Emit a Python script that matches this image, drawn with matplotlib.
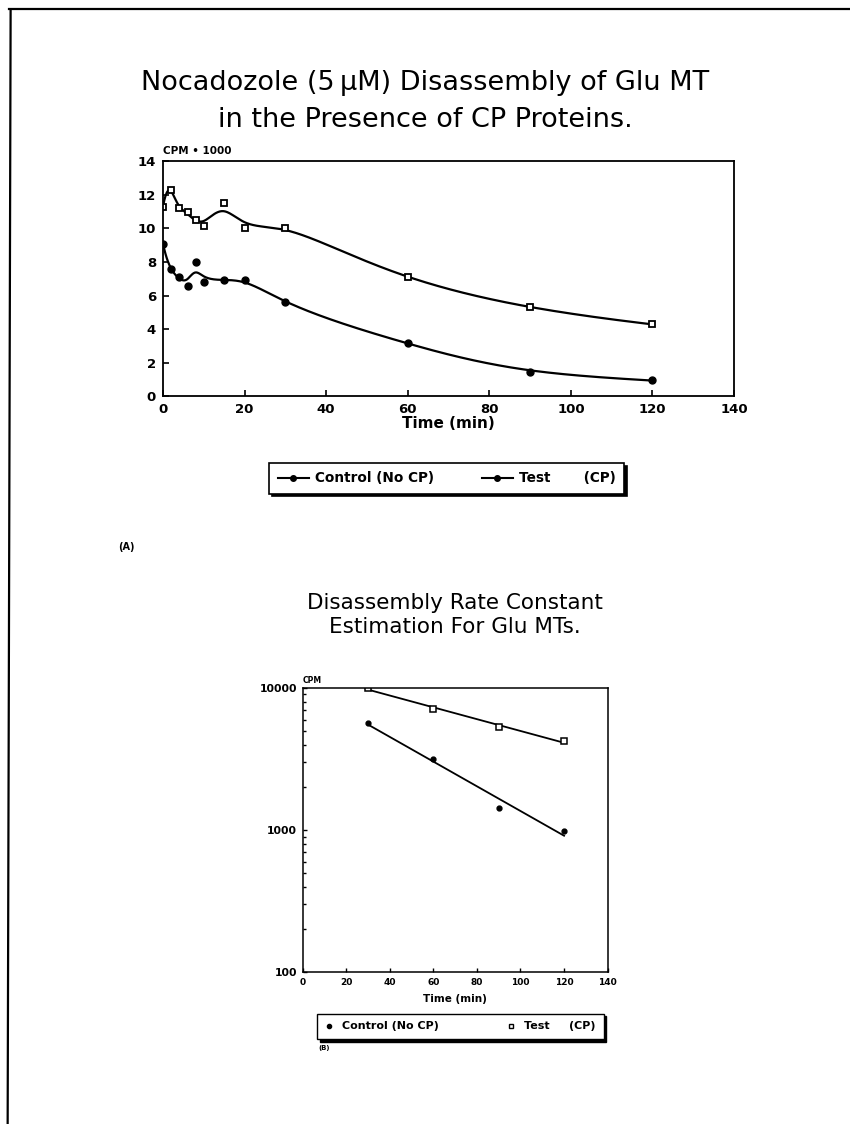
import numpy as np
from matplotlib import pyplot as plt

# Glu MT disassembly, counts (CPM / 1000) sampled over time
times = [0, 2, 4, 6, 8, 10, 15, 20, 30, 60, 90, 120]
test_cpm = [11.3, 12.3, 11.2, 11.0, 10.5, 10.15, 11.5, 10.0, 10.05, 7.1, 5.3, 4.3]
control_cpm = [9.1, 7.6, 7.1, 6.6, 8.0, 6.8, 6.9, 6.9, 5.6, 3.2, 1.45, 0.98]

# rate-constant panel uses the later time points only
rate_times = [30, 60, 90, 120]
rate_test = [10050, 7100, 5300, 4250]
rate_control = [5650, 3160, 1440, 990]

top_xticks = list(range(0, 141, 20))
top_yticks = list(range(0, 15, 2))

plt.rcParams['font.family'] = ['DejaVu Sans']


def smooth_spline(x, y, lam, xs):
    #Cubic smoothing spline (Reinsch), natural end conditions
    x = np.asarray(x, float)
    y = np.asarray(y, float)
    n = len(x)
    h = np.diff(x)
    Q = np.zeros((n, n - 2))
    R = np.zeros((n - 2, n - 2))
    for j in range(1, n - 1):
        Q[j - 1, j - 1] = 1 / h[j - 1]
        Q[j, j - 1] = -1 / h[j - 1] - 1 / h[j]
        Q[j + 1, j - 1] = 1 / h[j]
        R[j - 1, j - 1] = (h[j - 1] + h[j]) / 3
        if j < n - 2:
            R[j - 1, j] = R[j, j - 1] = h[j] / 6
    K = Q @ np.linalg.solve(R, Q.T)
    g = np.linalg.solve(np.eye(n) + lam * K, y)
    M = np.concatenate([[0], np.linalg.solve(R, Q.T @ g), [0]])
    i = np.clip(np.searchsorted(x, xs) - 1, 0, n - 2)
    x0, x1 = x[i], x[i + 1]
    hh = x1 - x0
    a, b = x1 - xs, xs - x0
    return ((M[i] * a ** 3 + M[i + 1] * b ** 3) / (6 * hh)
            + (g[i] / hh - M[i] * hh / 6) * a
            + (g[i + 1] / hh - M[i + 1] * hh / 6) * b)


def time_curve(t, y, lam, ts):
    #smooth on a log-time scale so early and late spacing look alike
    return smooth_spline(np.log(np.asarray(t, float) + 2), y, lam, np.log(ts + 2))


fig = plt.figure(figsize=(8.5, 11.24), dpi=100)

#Page frame (top and left edges)
fig.add_artist(plt.Line2D([0.011, 1.0], [0.9917, 0.9917], color='black', lw=1.6))
fig.add_artist(plt.Line2D([0.0125, 0.009], [0.9917, 0.0], color='black', lw=1.6))

fig.text(0.5, 0.926, "Nocadozole (5\u2009\u03bcM) Disassembly of Glu MT", ha='center', va='center', fontsize=19.5)
fig.text(0.5, 0.893, "in the Presence of CP Proteins.", ha='center', va='center', fontsize=19.5)

#Panel A: decay curves
ax1 = fig.add_axes([0.1918, 0.6475, 0.6718, 0.2089])
xs = np.linspace(0, 120, 800)
ax1.plot(xs, time_curve(times, test_cpm, 0.0015, xs), c='black', lw=1.6)
ax1.plot(xs, time_curve(times, control_cpm, 0.0015, xs), c='black', lw=1.6)
ax1.plot(times, test_cpm, ls='none', marker='s', ms=5, mfc='white', mec='black', mew=1.3)
ax1.plot(times, control_cpm, ls='none', marker='o', ms=5, mfc='black', mec='black')
ax1.set_xlim(0, 140)
ax1.set_ylim(0, 14)
ax1.set_xticks(top_xticks)
ax1.set_yticks(top_yticks)
ax1.tick_params(direction='in', length=4, width=1.2, labelsize=9.5, pad=5)
for lab in ax1.get_xticklabels() + ax1.get_yticklabels():
    lab.set_fontweight('bold')
for side in ax1.spines.values():
    side.set_linewidth(1.3)
ax1.set_xlabel("Time (min)", fontsize=11, fontweight='bold', labelpad=0)
ax1.text(0, 1.025, "CPM \u2022 1000", transform=ax1.transAxes, fontsize=7.5, fontweight='bold', va='bottom')

h1, = ax1.plot([], [], c='black', lw=1.5, marker='o', ms=4)
h2, = ax1.plot([], [], c='black', lw=1.5, marker='o', ms=4)
leg1 = fig.legend([h1, h2], ["Control (No CP)", "Test       (CP)"], loc='center',
                  bbox_to_anchor=(0.5255, 0.5743), ncol=2, fancybox=False,
                  shadow={'color': 'black', 'alpha': 1}, edgecolor='black',
                  framealpha=1, handlelength=2.3, handletextpad=0.45,
                  columnspacing=3.5, borderpad=0.6, prop={'weight': 'bold', 'size': 9.8})
leg1.get_frame().set_linewidth(1.2)

fig.text(0.139, 0.513, "(A)", ha='left', va='center', fontsize=7, fontweight='bold')

fig.text(0.535, 0.4635, "Disassembly Rate Constant", ha='center', va='center', fontsize=15.5)
fig.text(0.535, 0.442, "Estimation For Glu MTs.", ha='center', va='center', fontsize=15.5)

#Panel B: log plot with exponential fits
ax2 = fig.add_axes([0.3559, 0.1352, 0.359, 0.2527])
tt = np.array(rate_times, float)
for vals in (rate_test, rate_control):
    k, b = np.polyfit(tt, np.log10(vals), 1)
    ax2.plot(tt, 10 ** (k * tt + b), c='black', lw=1.3)
ax2.plot(rate_times, rate_test, ls='none', marker='s', ms=4, mfc='white', mec='black', mew=1.1)
ax2.plot(rate_times, rate_control, ls='none', marker='o', ms=3.5, mfc='black', mec='black')
ax2.set_yscale('log')
ax2.set_xlim(0, 140)
ax2.set_ylim(100, 10000)
ax2.set_xticks(top_xticks)
ax2.set_yticks([100, 1000, 10000])
ax2.set_yticklabels(["100", "1000", "10000"])
ax2.tick_params(which='both', direction='in', width=1, pad=4)
ax2.tick_params(axis='y', labelsize=7.8)
ax2.tick_params(axis='x', labelsize=6.5)
ax2.tick_params(which='major', length=3)
ax2.tick_params(which='minor', length=2.5)
for lab in ax2.get_xticklabels() + ax2.get_yticklabels():
    lab.set_fontweight('bold')
for side in ax2.spines.values():
    side.set_linewidth(1.1)
ax2.set_xlabel("Time (min)", fontsize=7.5, fontweight='bold', labelpad=5)
ax2.text(0, 1.012, "CPM", transform=ax2.transAxes, fontsize=5.5, fontweight='bold', va='bottom')

h3, = ax2.plot([], [], ls='none', marker='o', ms=3, mfc='black', mec='black')
h4, = ax2.plot([], [], ls='none', marker='s', ms=3, mfc='white', mec='black')
leg2 = fig.legend([h3, h4], ["Control (No CP)", "Test     (CP)"], loc='center',
                  bbox_to_anchor=(0.5418, 0.0868), ncol=2, fancybox=False,
                  shadow={'color': 'black', 'alpha': 1}, edgecolor='black',
                  framealpha=1, handlelength=0.6, handletextpad=0.9,
                  columnspacing=6.2, borderpad=0.7, prop={'weight': 'bold', 'size': 8})
leg2.get_frame().set_linewidth(1.0)

fig.text(0.375, 0.068, "(B)", ha='left', va='center', fontsize=5, fontweight='bold')

plt.savefig('out.png', dpi=100)
